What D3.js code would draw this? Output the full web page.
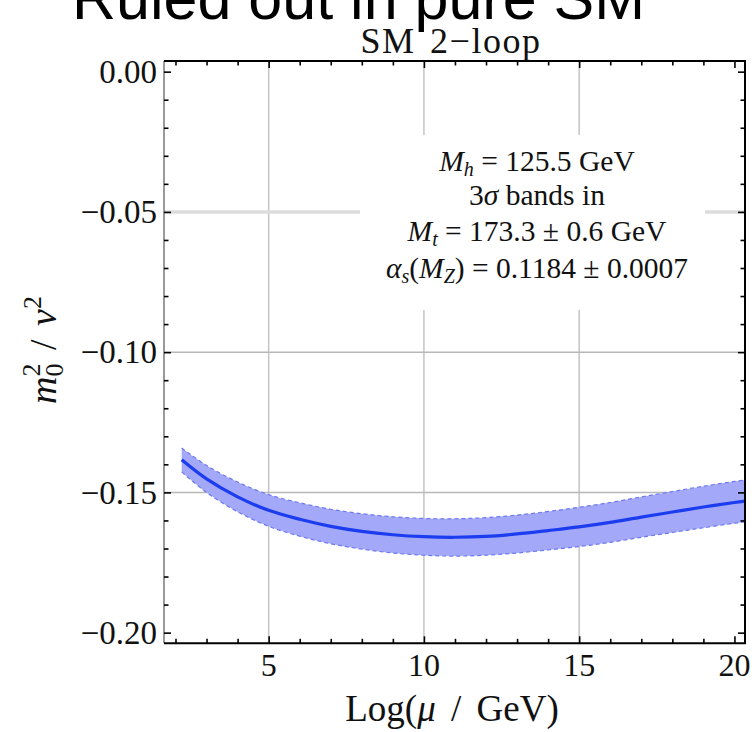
<!DOCTYPE html>
<html>
<head>
<meta charset="utf-8">
<script src="https://cdn.jsdelivr.net/npm/d3@7"></script>
<style>
  body { margin: 0; background: #fff; }
  svg { display: block; }
</style>
</head>
<body>
<svg id="chart" width="752" height="732"></svg>
<script>
// Running Higgs mass parameter m0^2/v^2 versus log of the scale (SM, 2-loop)
const logMu = [2.2, 3, 4, 5, 6, 7, 8, 9, 10, 11, 12, 13, 14, 15, 16, 17, 18, 19, 20, 20.35];
const central = [-0.1384, -0.1452, -0.1516, -0.1564, -0.1596, -0.1621, -0.1639, -0.1651, -0.1658, -0.1660,
                 -0.1657, -0.1648, -0.1636, -0.1623, -0.1607, -0.1588, -0.1570, -0.1552, -0.1536, -0.1531];
const upper   = [-0.1342, -0.1404, -0.1463, -0.1508, -0.1537, -0.1560, -0.1576, -0.1587, -0.1593, -0.1594,
                 -0.1590, -0.1581, -0.1568, -0.1553, -0.1536, -0.1516, -0.1497, -0.1478, -0.1461, -0.1456];
const lower   = [-0.1427, -0.1500, -0.1569, -0.1621, -0.1656, -0.1683, -0.1702, -0.1716, -0.1724, -0.1727,
                 -0.1724, -0.1716, -0.1705, -0.1693, -0.1678, -0.1660, -0.1643, -0.1626, -0.1610, -0.1605];

const xMajorTicks = [5, 10, 15, 20];
const xMinorTicks = [2, 3, 4, 6, 7, 8, 9, 11, 12, 13, 14, 16, 17, 18, 19];
const yMajorTicks = [0, -0.05, -0.10, -0.15, -0.20];
const yMinorTicks = [-0.01, -0.02, -0.03, -0.04, -0.06, -0.07, -0.08, -0.09, -0.11, -0.12, -0.13, -0.14,
                     -0.16, -0.17, -0.18, -0.19];
const xGrid = [5, 10, 15];
const yGrid = [-0.10, -0.15];
const yGridLight = [-0.05];

const serif = "'Liberation Serif', 'Times New Roman', serif";
const svg = d3.select("#chart");

const pL = 164, pR = 745, pT = 61, pB = 643.3;
const x = d3.scaleLinear().domain([1.63, 20.34]).range([pL, pR]);
const y = d3.scaleLinear().domain([0.0038, -0.2038]).range([pT, pB]);

// banner text across the top edge
svg.append("text")
  .attr("x", 72).attr("y", 19)
  .attr("font-family", "'Liberation Sans', Arial, sans-serif")
  .attr("font-size", 61)
  .attr("fill", "#000")
  .text("Ruled out in pure SM");

// plot title
svg.append("text")
  .attr("x", 451).attr("y", 53)
  .attr("text-anchor", "middle")
  .attr("font-family", serif)
  .attr("font-size", 36)
  .attr("letter-spacing", 1.5)
  .attr("word-spacing", 4)
  .attr("fill", "#111")
  .text("SM 2\u2212loop");

const plot = svg.append("g");

// grid
plot.selectAll("line.gx").data(xGrid).join("line")
  .attr("x1", d => x(d)).attr("x2", d => x(d))
  .attr("y1", pT).attr("y2", pB)
  .attr("stroke", "#c4c4c4").attr("stroke-width", 1.5);
plot.selectAll("line.gy").data(yGrid).join("line")
  .attr("x1", pL).attr("x2", pR)
  .attr("y1", d => y(d)).attr("y2", d => y(d))
  .attr("stroke", "#b8b8b8").attr("stroke-width", 1.5);
plot.selectAll("line.gyl").data(yGridLight).join("line")
  .attr("x1", pL).attr("x2", pR)
  .attr("y1", d => y(d)).attr("y2", d => y(d))
  .attr("stroke", "#dcdcdc").attr("stroke-width", 3.5);

// annotation with opaque background
const note = svg.append("g");
note.append("rect")
  .attr("x", 360).attr("y", 135).attr("width", 345).attr("height", 175)
  .attr("fill", "#fff");

const noteText = note.append("text")
  .attr("font-family", serif)
  .attr("font-size", 29.5)
  .attr("fill", "#111")
  .attr("text-anchor", "middle");

function noteLine(t, yPos, parts) {
  const el = t.append("tspan").attr("x", 537).attr("y", yPos);
  parts.forEach(p => {
    const s = el.append("tspan").text(p.t);
    if (p.i) s.attr("font-style", "italic");
    if (p.sub) s.attr("font-size", 20).attr("dy", 5);
    if (p.up) s.attr("dy", -5);
  });
}
noteLine(noteText, 171, [{t: "M", i: 1}, {t: "h", i: 1, sub: 1}, {t: " = 125.5 GeV", up: 1}]);
noteLine(noteText, 205, [{t: "3"}, {t: "\u03c3", i: 1}, {t: " bands in"}]);
noteLine(noteText, 241, [{t: "M", i: 1}, {t: "t", i: 1, sub: 1}, {t: " = 173.3 \u00b1 0.6 GeV", up: 1}]);
noteLine(noteText, 278, [{t: "\u03b1", i: 1}, {t: "s", i: 1, sub: 1}, {t: "(", up: 1}, {t: "M", i: 1},
                         {t: "Z", i: 1, sub: 1}, {t: ") = 0.1184 \u00b1 0.0007", up: 1}]);

// uncertainty band and central curve
const clip = svg.append("clipPath").attr("id", "plot-clip");
clip.append("rect").attr("x", pL).attr("y", pT).attr("width", pR - pL).attr("height", pB - pT);

const series = logMu.map((m, i) => ({m, c: central[i], hi: upper[i], lo: lower[i]}));
const curve = d3.curveCatmullRom.alpha(0.5);
const bandG = svg.append("g").attr("clip-path", "url(#plot-clip)");

bandG.append("path")
  .datum(series)
  .attr("d", d3.area().x(d => x(d.m)).y0(d => y(d.lo)).y1(d => y(d.hi)).curve(curve))
  .attr("fill", "#a3a9f8");

["hi", "lo"].forEach(k => {
  bandG.append("path")
    .datum(series)
    .attr("d", d3.line().x(d => x(d.m)).y(d => y(d[k])).curve(curve))
    .attr("fill", "none")
    .attr("stroke", "#6d78f2")
    .attr("stroke-width", 1.2)
    .attr("stroke-dasharray", "4,3");
});

bandG.append("path")
  .datum(series)
  .attr("d", d3.line().x(d => x(d.m)).y(d => y(d.c)).curve(curve))
  .attr("fill", "none")
  .attr("stroke", "#1c3cf0")
  .attr("stroke-width", 3.2);

// frame
const frame = svg.append("g");
frame.append("line").attr("x1", pL).attr("x2", pL).attr("y1", pT).attr("y2", pB)
  .attr("stroke", "#9a9a9a").attr("stroke-width", 2);
frame.append("line").attr("x1", pL).attr("x2", pR + 1).attr("y1", pT).attr("y2", pT)
  .attr("stroke", "#000").attr("stroke-width", 2);
frame.append("line").attr("x1", pL).attr("x2", pR + 1).attr("y1", pB).attr("y2", pB)
  .attr("stroke", "#000").attr("stroke-width", 2);
frame.append("line").attr("x1", pR).attr("x2", pR).attr("y1", pT).attr("y2", pB)
  .attr("stroke", "#000").attr("stroke-width", 2);

// inward ticks on all four sides
function ticks(axisFn, scale, vals, len, transform) {
  const g = svg.append("g").attr("transform", transform)
    .call(axisFn(scale).tickValues(vals).tickSize(-len).tickFormat(""));
  g.select(".domain").remove();
  g.selectAll(".tick line").attr("stroke", "#000").attr("stroke-width", 1.6);
}
ticks(d3.axisBottom, x, xMajorTicks, 7, `translate(0,${pB})`);
ticks(d3.axisBottom, x, xMinorTicks, 4.5, `translate(0,${pB})`);
ticks(d3.axisTop, x, xMajorTicks, 7, `translate(0,${pT})`);
ticks(d3.axisTop, x, xMinorTicks, 4.5, `translate(0,${pT})`);
ticks(d3.axisLeft, y, yMajorTicks, 7, `translate(${pL},0)`);
ticks(d3.axisLeft, y, yMinorTicks, 4.5, `translate(${pL},0)`);
ticks(d3.axisRight, y, yMajorTicks, 7, `translate(${pR},0)`);
ticks(d3.axisRight, y, yMinorTicks, 4.5, `translate(${pR},0)`);

// tick labels
const fmt = d3.format(".2f");
svg.append("g").selectAll("text").data(yMajorTicks).join("text")
  .attr("x", 157).attr("y", d => y(d))
  .attr("dy", "0.34em")
  .attr("text-anchor", "end")
  .attr("font-family", serif).attr("font-size", 33).attr("fill", "#111")
  .text(d => fmt(d));

svg.append("g").selectAll("text").data(xMajorTicks).join("text")
  .attr("x", d => x(d)).attr("y", 676)
  .attr("text-anchor", "middle")
  .attr("font-family", serif).attr("font-size", 32).attr("fill", "#111")
  .text(d => d);

// axis titles
const xt = svg.append("text")
  .attr("x", 452).attr("y", 721)
  .attr("text-anchor", "middle")
  .attr("font-family", serif).attr("font-size", 37).attr("fill", "#111")
  .attr("word-spacing", 6);
xt.append("tspan").text("Log(");
xt.append("tspan").attr("font-style", "italic").text("\u03bc");
xt.append("tspan").text(" / GeV)");

const yt = svg.append("text")
  .attr("transform", "translate(56,350) rotate(-90)")
  .attr("text-anchor", "middle")
  .attr("font-family", serif).attr("font-size", 38).attr("fill", "#111");
yt.append("tspan").attr("font-style", "italic").text("m");
yt.append("tspan").attr("font-size", 26).attr("dy", 7).text("0");
yt.append("tspan").attr("font-size", 26).attr("dx", -13).attr("dy", -23).text("2");
yt.append("tspan").attr("dy", 16).attr("word-spacing", 4).text(" / ");
yt.append("tspan").attr("font-style", "italic").text("\u03bd");
yt.append("tspan").attr("font-size", 26).attr("dy", -15).text("2");
</script>
</body>
</html>
